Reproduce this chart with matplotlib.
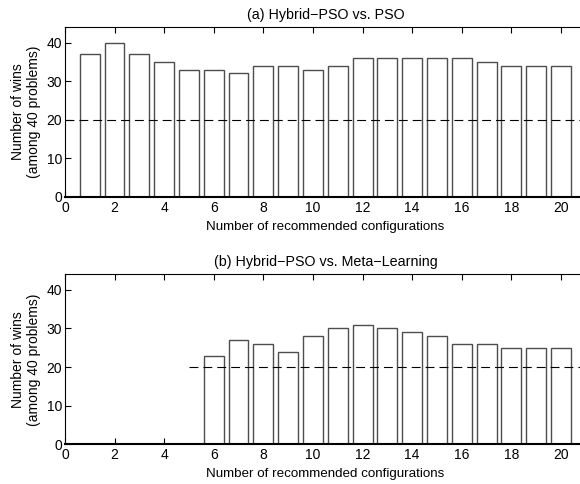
import matplotlib
matplotlib.use("Agg")
import matplotlib.pyplot as plt
import numpy as np

plt.rcParams['font.family'] = ['Liberation Sans', 'DejaVu Sans']

configs = list(range(1, 21))
wins_pso = [37, 40, 37, 35, 33, 33, 32, 34, 34, 33, 34, 36, 36, 36, 36, 36, 35, 34, 34, 34]
wins_meta = [0, 0, 0, 0, 0, 23, 27, 26, 24, 28, 30, 31, 30, 29, 28, 26, 26, 25, 25, 25]
titles = ["(a) Hybrid\u2212PSO vs. PSO", "(b) Hybrid\u2212PSO vs. Meta\u2212Learning"]
xticks = list(range(0, 21, 2))
yticks = [0, 10, 20, 30, 40]
ref_level = 20
ref_starts = [0, 5]

fig = plt.figure(figsize=(5.8, 4.84), dpi=100)
positions = [[0.112, 0.593, 0.898, 0.351], [0.112, 0.082, 0.898, 0.351]]
fs = 10
for pos, vals, title, rs in zip(positions, [wins_pso, wins_meta], titles, ref_starts):
    ax = fig.add_axes(pos)
    ax.bar(configs, vals, width=0.8, facecolor='white', edgecolor='0.3', linewidth=1.0, zorder=2)
    ax.plot([rs, 21], [ref_level, ref_level], linestyle=(0, (8, 4.5)), color='black', linewidth=0.8, zorder=3)
    ax.set_xlim(0, 21)
    ax.set_ylim(0, 44)
    ax.set_xticks(xticks)
    ax.set_yticks(yticks)
    ax.tick_params(direction='in', top=True, right=True, labelsize=fs, length=4, width=0.8)
    ax.tick_params(axis='x', pad=3)
    ax.tick_params(axis='y', pad=2)
    for s in ax.spines.values():
        s.set_linewidth(0.8)
    ax.spines['bottom'].set_linewidth(1.5)
    ax.set_title(title, fontsize=10.3, pad=6)
    ax.set_xlabel("Number of recommended configurations", fontsize=9.6, labelpad=4)
    ax.set_ylabel("Number of wins\n(among 40 problems)", fontsize=fs, labelpad=4, linespacing=1.2)

fig.savefig("out.png", dpi=100)
